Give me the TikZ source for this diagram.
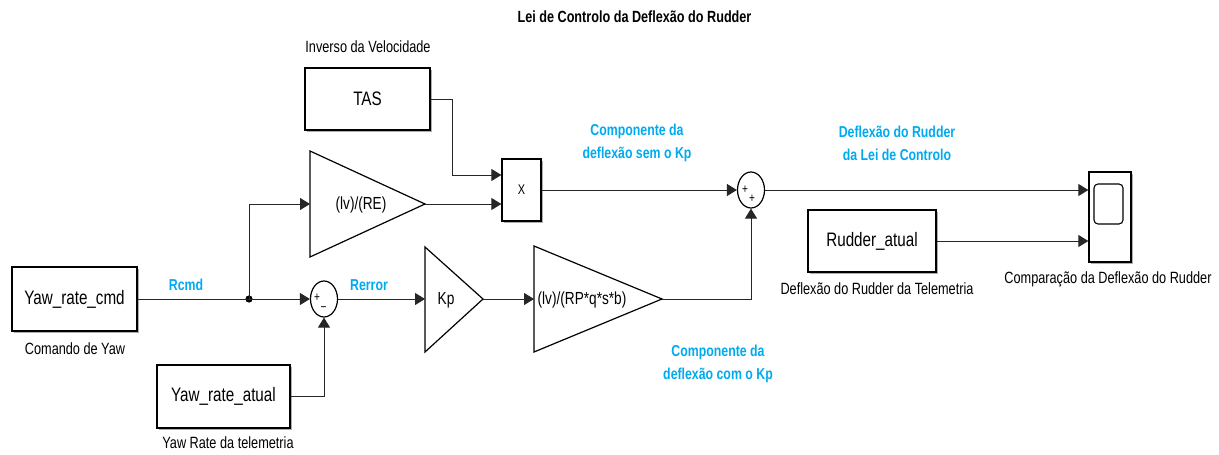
\documentclass[tikz,border=0pt]{standalone}
\usepackage{fontspec}
\setmainfont{Liberation Sans}[FakeStretch=0.78]
\usetikzlibrary{arrows.meta,shapes.geometric,shadows}
\definecolor{sigcyan}{RGB}{0,170,240}
\begin{document}
\begin{tikzpicture}[x=1pt,y=-1pt,
  wire/.style={draw=black!85, line width=1pt},
  sig/.style={wire, -{Triangle[length=10pt,width=12pt]}},
  blockbox/.style={draw, line width=1.3pt, fill=white, inner sep=0pt,
    drop shadow={shadow xshift=1.6pt, shadow yshift=-1.6pt, fill=black!45, opacity=.7},
    font=\fontsize{19.5}{21}\selectfont},
  gainshape/.style={draw, line width=1.2pt, line join=miter, fill=white},
  gaintext/.style={font=\fontsize{17.5}{20}\selectfont},
  blocklabel/.style={font=\fontsize{16.3}{18}\selectfont},
  signame/.style={font=\bfseries\fontsize{15.8}{23}\selectfont, text=sigcyan, align=center},
  sumnode/.style={ellipse, draw, line width=1.2pt, fill=white, minimum width=27pt,
    minimum height=36pt, inner sep=0pt},
  signmark/.style={font=\fontsize{13}{13}\selectfont, inner sep=0pt}]
\useasboundingbox (0,0) rectangle (1219,455);

% title
\node[font=\bfseries\fontsize{16.2}{18}\selectfont] (title) at (634.5,17) {Lei de Controlo da Deflexão do Rudder};

% source blocks
\node[blockbox, minimum width=125pt, minimum height=64pt] (cmd) at (74.5,299) {Yaw\_rate\_cmd};
\node[blocklabel] (cmdlab) at (75,349) {Comando de Yaw};
\node[blockbox, minimum width=125pt, minimum height=62pt] (tas) at (367.5,99) {TAS};
\node[blocklabel] (taslab) at (368,47) {Inverso da Velocidade};
\node[blockbox, minimum width=133pt, minimum height=63pt] (atual) at (223.5,396.5) {Yaw\_rate\_atual};
\node[blocklabel] (atuallab) at (228,443) {Yaw Rate da telemetria};
\node[blockbox, minimum width=128pt, minimum height=62pt] (rud) at (872,241) {Rudder\_atual};
\node[blocklabel] (rudlab) at (877,289) {Deflexão do Rudder da Telemetria};

% product block
\node[blockbox, minimum width=39pt, minimum height=62pt, font=\fontsize{14}{14}\selectfont] (prod) at (521.5,190) {X};

% sum blocks
\node[sumnode] (s1) at (324,299) {};
\node[signmark] at (317,298) {+};
\node[signmark] at (323.5,309) {\textminus};
\node[sumnode] (s2) at (751,190) {};
\node[signmark] at (745,190) {+};
\node[signmark] at (752,199) {+};

% scope
\node[blockbox, minimum width=42pt, minimum height=90pt] (scope) at (1110,217) {};
\node[draw, line width=1.1pt, rounded corners=4pt, minimum width=29pt, minimum height=40pt, inner sep=0pt] (screen) at (1108.5,204) {};
\node[blocklabel] (scopelab) at (1108,279) {Comparação da Deflexão do Rudder};

% gain blocks
\draw[gainshape] (310,151) -- (425,204) -- (310,257) -- cycle;
\coordinate (g1in) at (310,204);
\coordinate (g1out) at (425,204);
\node[gaintext] (g1) at (361,205) {(lv)/(RE)};

\draw[gainshape] (425,247) -- (483,299) -- (425,352) -- cycle;
\coordinate (kpin) at (425,299);
\coordinate (kpout) at (483,299);
\node[gaintext] (kp) at (446,300) {Kp};

\draw[gainshape] (534,246) -- (662,299) -- (534,352) -- cycle;
\coordinate (g2in) at (534,299);
\coordinate (g2out) at (662,299);
\node[gaintext] (g2) at (582,300) {(lv)/(RP*q*s*b)};

% branch point
\coordinate (br) at (249,299);
\fill (br) circle (3.6pt);

% signal lines
\draw[wire] (cmd.east) -- (br);
\draw[sig] (br) -- (s1.west);
\draw[sig] (br) |- (g1in);
\draw[sig] (atual.east) -| (s1.south);
\draw[sig] (s1.east) -- (kpin);
\draw[sig] (kpout) -- (g2in);
\draw[sig] (g2out) -| (s2.south);
\draw[sig] (tas.east) -- ++(22,0) |- ([yshift=15pt]prod.west);
\draw[sig] (g1out) -- (g1out -| prod.west);
\draw[sig] (prod.east) -- (s2.west);
\draw[sig] (s2.east) -- (s2.east -| scope.west);
\draw[sig] (rud.east) -- (rud.east -| scope.west);

% signal names
\node[signame] (rcmd) at (186,285) {Rcmd};
\node[signame] (rerror) at (369,285) {Rerror};
\node[signame] (compsem) at (637,143) {Componente da\\deflexão sem o Kp};
\node[signame] (deflei) at (897,143) {Deflexão do Rudder\\da Lei de Controlo};
\node[signame] (compcom) at (718,364) {Componente da\\deflexão com o Kp};
\end{tikzpicture}
\end{document}
